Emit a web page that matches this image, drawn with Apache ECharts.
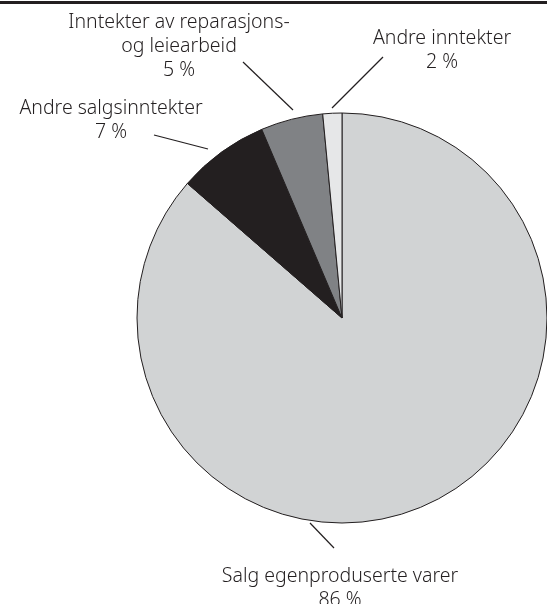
<!DOCTYPE html>
<html>
<head>
<meta charset="utf-8">
<script src="https://cdn.jsdelivr.net/npm/echarts@6/dist/echarts.min.js"></script>
<style>
html,body{margin:0;padding:0;background:#fff;}
#chart{width:547px;height:604px;}
</style>
</head>
<body>
<div id="chart"></div>
<script>
// Data
const categories = ['Salg egenproduserte varer', 'Andre salgsinntekter', 'Inntekter av reparasjons-\nog leiearbeid', 'Andre inntekter'];
const values = [86.4, 7.2, 4.9, 1.5];
const percentLabels = ['86 %', '7 %', '5 %', '2 %'];

// Presentation
const colors = ['#d1d3d4', '#231f20', '#808285', '#e6e7e8'];
const labelPos = [
  { x: 340, y: 588 },
  { x: 111, y: 120 },
  { x: 179, y: 46 },
  { x: 442, y: 50 }
];
const leaderLines = [
  [[310, 523], [334, 548]],
  [[208, 149], [154, 135]],
  [[293, 110], [243, 62]],
  [[332, 108], [383, 57]]
];

const chart = echarts.init(document.getElementById('chart'), null, { renderer: 'canvas' });
chart.setOption({
  animation: false,
  backgroundColor: '#ffffff',
  graphic: [{
    type: 'rect',
    shape: { x: 0, y: 1, width: 547, height: 3 },
    style: { fill: '#231f20' }
  }],
  series: [{
    type: 'pie',
    center: [342, 318],
    radius: 205,
    startAngle: 90,
    clockwise: true,
    avoidLabelOverlap: false,
    data: categories.map((c, i) => ({ name: c, value: values[i], itemStyle: { color: colors[i] } })),
    itemStyle: { borderColor: '#231f20', borderWidth: 1 },
    label: {
      show: true,
      position: 'outside',
      formatter: p => p.name + '\n' + percentLabels[p.dataIndex],
      fontFamily: 'Noto Sans',
      fontWeight: 300,
      fontSize: 19.5,
      lineHeight: 24,
      color: '#231f20',
      align: 'center'
    },
    labelLine: { show: true, length: 20, length2: 10, lineStyle: { color: '#231f20', width: 1.2 } },
    labelLayout: function (params) {
      const i = params.dataIndex;
      return {
        x: labelPos[i].x,
        y: labelPos[i].y,
        align: 'center',
        verticalAlign: 'middle',
        labelLinePoints: leaderLines[i]
      };
    },
    emphasis: { disabled: true }
  }]
});
</script>
</body>
</html>
